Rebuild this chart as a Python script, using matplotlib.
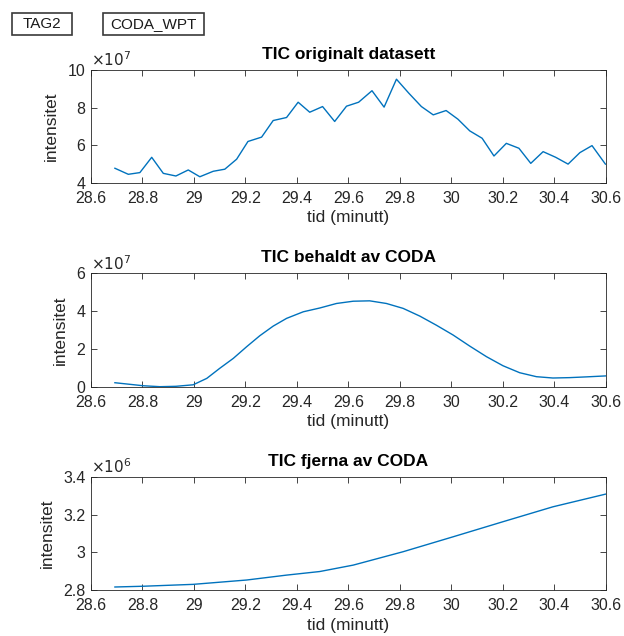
import matplotlib
matplotlib.use("Agg")
import matplotlib.pyplot as plt
from matplotlib.patches import Rectangle
from matplotlib.ticker import FuncFormatter, MultipleLocator

plt.rcParams['font.family'] = ['Liberation Sans', 'DejaVu Sans']

# TIC originalt datasett (intensitet x 1e7)
t_orig = [28.693, 28.745, 28.790, 28.836, 28.881, 28.930, 28.978, 29.023, 29.075, 29.120,
          29.166, 29.210, 29.263, 29.308, 29.360, 29.405, 29.450, 29.500, 29.547, 29.593,
          29.640, 29.692, 29.739, 29.787, 29.835, 29.884, 29.930, 29.980, 30.026, 30.072,
          30.120, 30.166, 30.214, 30.263, 30.309, 30.357, 30.406, 30.454, 30.500, 30.547,
          30.599]
i_orig = [4.78, 4.46, 4.55, 5.36, 4.51, 4.37, 4.69, 4.33, 4.62, 4.73,
          5.26, 6.20, 6.43, 7.31, 7.47, 8.28, 7.75, 8.05, 7.26, 8.07,
          8.28, 8.89, 8.02, 9.50, 8.76, 8.05, 7.61, 7.84, 7.38, 6.76,
          6.37, 5.43, 6.10, 5.84, 5.04, 5.66, 5.36, 5.00, 5.61, 5.98,
          5.00]

# TIC behaldt av CODA (intensitet x 1e7)
t_kept = [28.693, 28.803, 28.868, 28.930, 28.997, 29.050, 29.100, 29.153, 29.205, 29.256,
          29.308, 29.360, 29.425, 29.489, 29.554, 29.619, 29.683, 29.748, 29.813, 29.878,
          29.942, 30.007, 30.072, 30.137, 30.201, 30.266, 30.331, 30.395, 30.460, 30.525,
          30.599]
i_kept = [0.21, 0.05, 0.00, 0.02, 0.10, 0.44, 0.97, 1.50, 2.12, 2.70,
          3.21, 3.62, 3.97, 4.17, 4.41, 4.53, 4.55, 4.41, 4.15, 3.74,
          3.26, 2.74, 2.15, 1.59, 1.11, 0.74, 0.53, 0.46, 0.48, 0.52,
          0.57]

# TIC fjerna av CODA (intensitet x 1e6)
t_removed = [28.693, 28.803, 28.997, 29.205, 29.360, 29.489, 29.619, 29.813, 30.007, 30.201,
             30.395, 30.599]
i_removed = [2.816, 2.820, 2.830, 2.853, 2.879, 2.898, 2.932, 3.003, 3.082, 3.162,
             3.241, 3.308]

panels = [
    ("TIC originalt datasett", t_orig, i_orig, (4, 10), 2, 7),
    ("TIC behaldt av CODA", t_kept, i_kept, (0, 6), 2, 7),
    ("TIC fjerna av CODA", t_removed, i_removed, (2.8, 3.4), 0.2, 6),
]

line_color = '#0072BD'
axis_color = '#262626'
fmt = FuncFormatter(lambda v, p: f"{v:g}")

W, H = 624, 636
fig = plt.figure(figsize=(W / 100, H / 100), dpi=100)
bottoms = [0.7123, 0.392, 0.0723]

for (title, t, y, ylim, ystep, expo), b in zip(panels, bottoms):
    ax = fig.add_axes([0.1458, b, 0.8248, 0.178])
    ax.plot(t, y, color=line_color, lw=1.0)
    ax.set_xlim(28.6, 30.6)
    ax.set_ylim(*ylim)
    ax.xaxis.set_major_locator(MultipleLocator(0.2))
    ax.yaxis.set_major_locator(MultipleLocator(ystep))
    ax.xaxis.set_major_formatter(fmt)
    ax.yaxis.set_major_formatter(fmt)
    ax.tick_params(direction='in', top=True, right=True, length=4, width=0.6,
                   colors=axis_color, labelsize=11.5)
    ax.tick_params(axis='x', pad=6)
    ax.tick_params(axis='y', pad=4)
    for s in ax.spines.values():
        s.set_color(axis_color)
        s.set_linewidth(0.6)
    ax.set_title(title, fontsize=12.5, fontweight='bold', pad=8)
    ax.set_xlabel('tid (minutt)', fontsize=12.5, color=axis_color, labelpad=3)
    ax.set_ylabel('intensitet', fontsize=12.5, color=axis_color, labelpad=6)
    ax.text(0.0, 1.005, r'$\times10^{%d}$' % expo, transform=ax.transAxes,
            fontsize=11, color=axis_color, ha='left', va='bottom')

# label boxes in the top-left corner (x0, width in pixels)
for label, x0, w in [('TAG2', 12, 60), ('CODA_WPT', 103, 101)]:
    fig.patches.append(Rectangle((x0 / W, 1 - 35 / H), w / W, 22 / H,
                                 transform=fig.transFigure, facecolor='white',
                                 edgecolor='#3a3a3a', lw=1.2))
    fig.text((x0 + w / 2) / W, 1 - 24 / H, label, fontsize=11,
             ha='center', va='center', color='#1a1a1a')

fig.savefig('out.png', dpi=100)
